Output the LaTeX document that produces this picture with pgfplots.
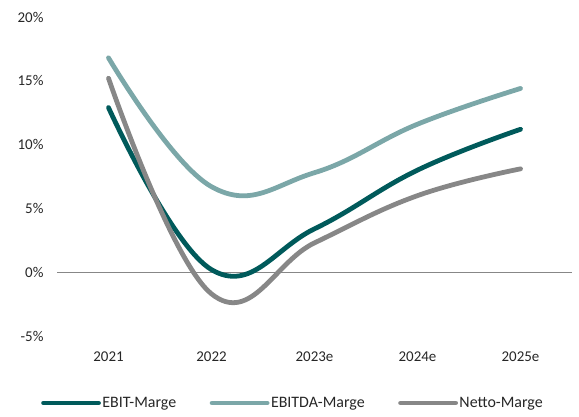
\documentclass[border=0pt]{standalone}
\usepackage{pgfplots}
\pgfplotsset{compat=1.18}
\usepackage{fontspec}
\setmainfont{Carlito}
\definecolor{ebit}{RGB}{0,90,91}
\definecolor{ebitda}{RGB}{123,167,168}
\definecolor{netto}{RGB}{135,135,135}
\definecolor{txt}{RGB}{38,38,38}
\begin{document}
\begin{tikzpicture}
\path[use as bounding box] (0,0) rectangle (579bp,417bp);
\begin{axis}[
  at={(57bp,81bp)}, anchor=south west,
  scale only axis, width=515bp, height=319bp,
  xmin=-0.5, xmax=4.5, ymin=-5, ymax=20,
  xtick={0,1,2,3,4},
  xticklabels={2021,2022,2023e,2024e,2025e},
  ytick={-5,0,5,10,15,20},
  yticklabel={\pgfmathprintnumber{\tick}\%},
  /pgf/number format/assume math mode=true,
  axis line style={draw=none},
  tick style={draw=none},
  ticklabel style={font=\fontsize{15}{17}\selectfont, text=txt},
  yticklabel style={xshift=-10bp},
  xticklabel style={yshift=-12bp},
  extra y ticks={0},
  extra y tick labels={},
  extra y tick style={grid=major, major grid style={draw=netto, line width=1.4pt}},
  legend columns=3,
  legend style={draw=none, fill=none, at={(0.4577,-0.21)}, anchor=center,
    font=\fontsize{16}{18}\selectfont, text=txt,
    nodes={inner xsep=1.5bp},
    /tikz/every even column/.append style={column sep=32bp}},
  legend cell align=left,
  legend image code/.code={\draw[#1, line cap=round] (0bp,0bp) -- (55bp,0bp);},
  every axis plot/.append style={smooth, tension=0.7, line width=4.8pt, line cap=round, line join=round},
]
\addplot[ebit] coordinates {(0,12.9) (1,0.2) (2,3.4) (3,8.0) (4,11.2)};
\addlegendentry{EBIT-Marge}
\addplot[ebitda] coordinates {(0,16.8) (1,6.7) (2,7.8) (3,11.6) (4,14.4)};
\addlegendentry{EBITDA-Marge}
\addplot[netto] coordinates {(0,15.2) (1,-1.7) (2,2.3) (3,6.0) (4,8.1)};
\addlegendentry{Netto-Marge}
\end{axis}
\end{tikzpicture}
\end{document}
